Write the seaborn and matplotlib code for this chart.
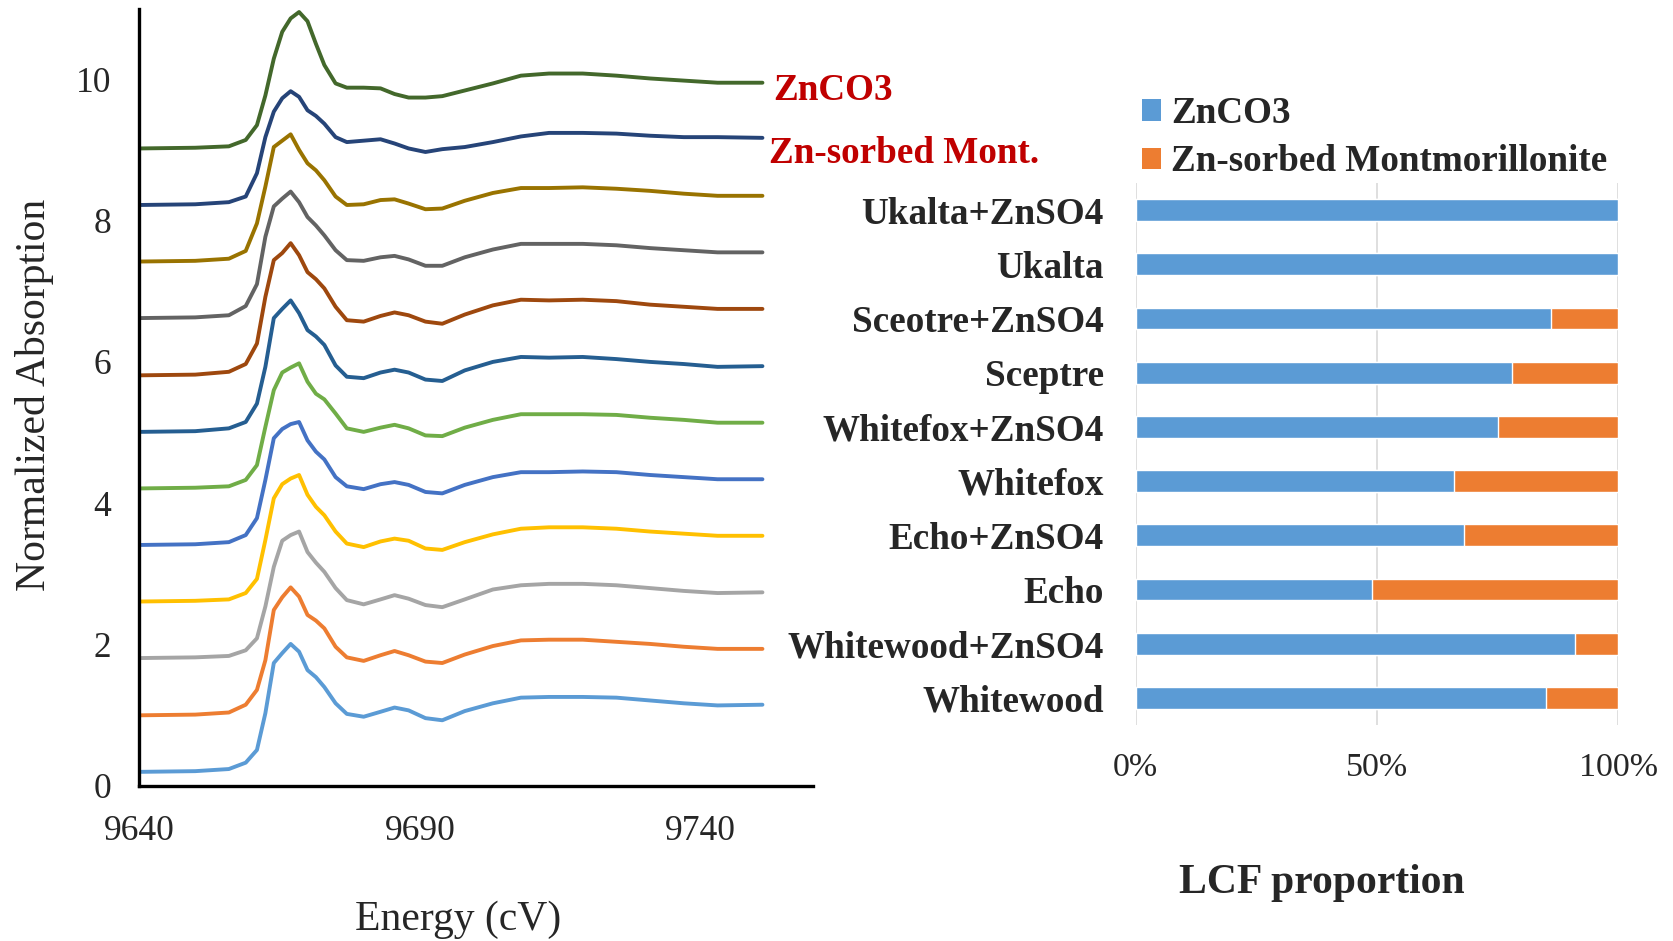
import matplotlib
matplotlib.use("Agg")
import matplotlib.pyplot as plt
from matplotlib.patches import Patch
import pandas as pd
import seaborn as sns

# ---------------- XANES spectra (stacked, normalized absorption) ----------------
energy = [9640, 9650, 9656, 9659, 9661, 9662.5, 9664, 9665.5, 9667, 9668.5,
          9670, 9671.5, 9673, 9675, 9677, 9680, 9683, 9685.5, 9688, 9691,
          9694, 9698, 9703, 9708, 9713, 9719, 9725, 9731, 9737, 9743, 9751]

whitewood = [0.20, 0.21, 0.24, 0.33, 0.51, 1.03, 1.74, 1.88, 2.01, 1.90,
             1.64, 1.54, 1.40, 1.17, 1.02, 0.98, 1.05, 1.11, 1.07, 0.96,
             0.93, 1.06, 1.17, 1.25, 1.26, 1.26, 1.25, 1.21, 1.17, 1.14, 1.15]
whitewood_znso4 = [1.00, 1.01, 1.04, 1.15, 1.36, 1.78, 2.49, 2.67, 2.81, 2.68,
                   2.42, 2.34, 2.23, 1.97, 1.82, 1.77, 1.85, 1.91, 1.85, 1.76,
                   1.74, 1.86, 1.98, 2.06, 2.07, 2.07, 2.04, 2.01, 1.97, 1.94, 1.94]
echo = [1.81, 1.82, 1.84, 1.92, 2.09, 2.54, 3.10, 3.47, 3.55, 3.60,
        3.31, 3.16, 3.03, 2.80, 2.63, 2.57, 2.64, 2.70, 2.65, 2.56,
        2.53, 2.64, 2.78, 2.84, 2.86, 2.86, 2.84, 2.80, 2.76, 2.73, 2.74]
echo_znso4 = [2.61, 2.62, 2.64, 2.73, 2.93, 3.48, 4.07, 4.27, 4.35, 4.40,
              4.12, 3.95, 3.83, 3.60, 3.43, 3.38, 3.46, 3.50, 3.47, 3.36,
              3.34, 3.45, 3.56, 3.64, 3.66, 3.66, 3.64, 3.60, 3.57, 3.54, 3.54]
whitefox = [3.41, 3.42, 3.45, 3.55, 3.79, 4.33, 4.92, 5.05, 5.12, 5.15,
            4.89, 4.73, 4.62, 4.37, 4.24, 4.20, 4.27, 4.30, 4.26, 4.16,
            4.14, 4.26, 4.37, 4.44, 4.44, 4.45, 4.44, 4.40, 4.37, 4.34, 4.34]
whitefox_znso4 = [4.21, 4.22, 4.24, 4.33, 4.54, 5.08, 5.60, 5.85, 5.92, 5.98,
                  5.72, 5.55, 5.47, 5.27, 5.06, 5.01, 5.07, 5.11, 5.06, 4.96,
                  4.95, 5.07, 5.18, 5.26, 5.26, 5.26, 5.25, 5.21, 5.18, 5.14, 5.14]
sceptre = [5.01, 5.02, 5.06, 5.15, 5.41, 5.93, 6.62, 6.75, 6.87, 6.69,
           6.45, 6.36, 6.24, 5.95, 5.79, 5.77, 5.85, 5.89, 5.85, 5.75,
           5.73, 5.88, 6.00, 6.07, 6.06, 6.07, 6.04, 6.00, 5.97, 5.93, 5.94]
sceptre_znso4 = [5.81, 5.82, 5.86, 5.97, 6.26, 6.92, 7.44, 7.54, 7.68, 7.51,
                 7.27, 7.17, 7.04, 6.78, 6.59, 6.57, 6.65, 6.70, 6.66, 6.57,
                 6.54, 6.67, 6.80, 6.88, 6.87, 6.88, 6.86, 6.81, 6.78, 6.75, 6.75]
ukalta = [6.62, 6.63, 6.66, 6.79, 7.10, 7.77, 8.20, 8.31, 8.41, 8.26,
          8.05, 7.93, 7.79, 7.58, 7.44, 7.43, 7.48, 7.50, 7.45, 7.36,
          7.36, 7.48, 7.59, 7.67, 7.67, 7.67, 7.65, 7.61, 7.58, 7.55, 7.55]
ukalta_znso4 = [7.42, 7.43, 7.46, 7.57, 7.96, 8.48, 9.04, 9.13, 9.22, 9.00,
                8.81, 8.71, 8.57, 8.34, 8.22, 8.23, 8.29, 8.30, 8.24, 8.16,
                8.17, 8.28, 8.39, 8.46, 8.46, 8.47, 8.45, 8.42, 8.38, 8.35, 8.35]
zn_mont_ref = [8.22, 8.23, 8.26, 8.34, 8.67, 9.18, 9.54, 9.73, 9.83, 9.75,
               9.56, 9.48, 9.37, 9.18, 9.11, 9.13, 9.15, 9.09, 9.02, 8.97,
               9.01, 9.04, 9.11, 9.19, 9.24, 9.24, 9.23, 9.20, 9.18, 9.18, 9.17]
znco3_ref = [9.02, 9.03, 9.05, 9.14, 9.35, 9.77, 10.29, 10.67, 10.86, 10.95,
             10.82, 10.50, 10.20, 9.94, 9.88, 9.88, 9.87, 9.79, 9.74, 9.74,
             9.76, 9.84, 9.94, 10.05, 10.08, 10.08, 10.05, 10.01, 9.98, 9.95, 9.95]

spectra_names = ["Whitewood", "Whitewood+ZnSO4", "Echo", "Echo+ZnSO4",
                 "Whitefox", "Whitefox+ZnSO4", "Sceptre", "Sceotre+ZnSO4",
                 "Ukalta", "Ukalta+ZnSO4", "Zn-sorbed Mont.", "ZnCO3"]
spectra = [whitewood, whitewood_znso4, echo, echo_znso4, whitefox, whitefox_znso4,
           sceptre, sceptre_znso4, ukalta, ukalta_znso4, zn_mont_ref, znco3_ref]
spectra_colors = ["#5B9BD5", "#ED7D31", "#A5A5A5", "#FFC000", "#4472C4", "#70AD47",
                  "#255E91", "#9E480E", "#636363", "#997300", "#264478", "#43682B"]

# ---------------- LCF results ----------------
samples = ["Ukalta+ZnSO4", "Ukalta", "Sceotre+ZnSO4", "Sceptre", "Whitefox+ZnSO4",
           "Whitefox", "Echo+ZnSO4", "Echo", "Whitewood+ZnSO4", "Whitewood"]
frac_znco3 = [100, 100, 86, 78, 75, 66, 68, 49, 91, 85]
frac_zn_mont = [0, 0, 14, 22, 25, 34, 32, 51, 9, 15]
lcf_components = ["ZnCO3", "Zn-sorbed Montmorillonite"]
lcf_colors = ["#5B9BD5", "#ED7D31"]

# ---------------- style ----------------
sns.set_style("white")
plt.rcParams["font.family"] = ["Liberation Serif", "DejaVu Serif"]
plt.rcParams["mathtext.default"] = "regular"

W, H = 1673, 941
fig = plt.figure(figsize=(W / 100, H / 100), dpi=100)
fig.patch.set_facecolor("white")

# ---------------- left panel: stacked spectra ----------------
ax1 = fig.add_axes([139 / W, 1 - 786 / H, (813 - 139) / W, (786 - 8.5) / H])
long = pd.DataFrame({
    "Energy": [e for _ in spectra for e in energy],
    "Absorption": [v for s in spectra for v in s],
    "Sample": [n for n, s in zip(spectra_names, spectra) for _ in s],
})
sns.lineplot(data=long, x="Energy", y="Absorption", hue="Sample",
             hue_order=spectra_names, palette=dict(zip(spectra_names, spectra_colors)),
             estimator=None, sort=False, legend=False, linewidth=2.8, ax=ax1)
for ln in ax1.lines:
    ln.set_solid_joinstyle("round")
    ln.set_solid_capstyle("round")

ax1.set_xlim(9640, 9760)
ax1.set_ylim(0, 11)
ax1.set_xticks([9640, 9690, 9740])
ax1.set_yticks([0, 2, 4, 6, 8, 10])
ax1.tick_params(axis="x", length=0, pad=21, labelsize=25.5)
ax1.tick_params(axis="y", length=0, pad=20, labelsize=25.5)
for side in ("top", "right"):
    ax1.spines[side].set_visible(False)
for side in ("left", "bottom"):
    ax1.spines[side].set_color("black")
    ax1.spines[side].set_linewidth(2.4)

ax1.set_xlabel("Energy (cV)", fontsize=30)
ax1.xaxis.set_label_coords((458 - 139) / 674, (786 - 930) / 777.5)
ax1.xaxis.label.set_verticalalignment("baseline")
ax1.set_ylabel("Normalized Absorption", fontsize=30)
ax1.yaxis.set_label_coords((35 - 139) / 674, (786 - 395) / 777.5)
ax1.yaxis.label.set_verticalalignment("center")

fig.text(772.8 / W, 1 - 100 / H, "ZnCO3", color="#C00000", fontsize=26.7,
         fontweight="bold", ha="left", va="baseline")
fig.text(768.7 / W, 1 - 163 / H, "Zn-sorbed Mont.", color="#C00000", fontsize=26.7,
         fontweight="bold", ha="left", va="baseline")

# ---------------- right panel: stacked LCF bars ----------------
ax2 = fig.add_axes([1135.6 / W, 1 - 725 / H, (1618.5 - 1135.6) / W, (725 - 183) / H])
totals = [a + b for a, b in zip(frac_znco3, frac_zn_mont)]
sns.barplot(x=totals, y=samples, orient="h", color=lcf_colors[1], saturation=1,
            width=0.4, errorbar=None, ax=ax2, zorder=3)
sns.barplot(x=frac_znco3, y=samples, orient="h", color=lcf_colors[0], saturation=1,
            width=0.4, errorbar=None, ax=ax2, zorder=4)

ax2.set_xlim(0, 100)
ax2.set_xticks([0, 50, 100])
ax2.set_xticklabels(["0%", "50%", "100%"])
ax2.xaxis.grid(True, color="#D9D9D9", linewidth=1.2, zorder=0)
ax2.set_axisbelow(True)
ax2.tick_params(axis="x", length=0, pad=20, labelsize=24.5)
ax2.tick_params(axis="y", length=0, pad=23, labelsize=26.7)
for lbl in ax2.get_yticklabels():
    lbl.set_fontweight("bold")
for side in ax2.spines.values():
    side.set_visible(False)
ax2.set_ylabel("")
ax2.set_xlabel("LCF proportion", fontsize=30, fontweight="bold")
ax2.xaxis.set_label_coords((1321.5 - 1135.6) / 482.9, (725 - 893) / 542)
ax2.xaxis.label.set_verticalalignment("baseline")

handles = [Patch(facecolor=c, edgecolor="none", label=l)
           for c, l in zip(lcf_colors, lcf_components)]
leg = ax2.legend(handles=handles, loc="upper left",
                 bbox_to_anchor=(1141.5 / W, 1 - 96 / H),
                 bbox_transform=fig.transFigure, frameon=False,
                 prop={"size": 26.7, "weight": "bold"},
                 handlelength=0.52, handleheight=0.51, handletextpad=0.27,
                 labelspacing=0.36, borderpad=0, borderaxespad=0)

fig.savefig("out.png", dpi=100, facecolor="white")
